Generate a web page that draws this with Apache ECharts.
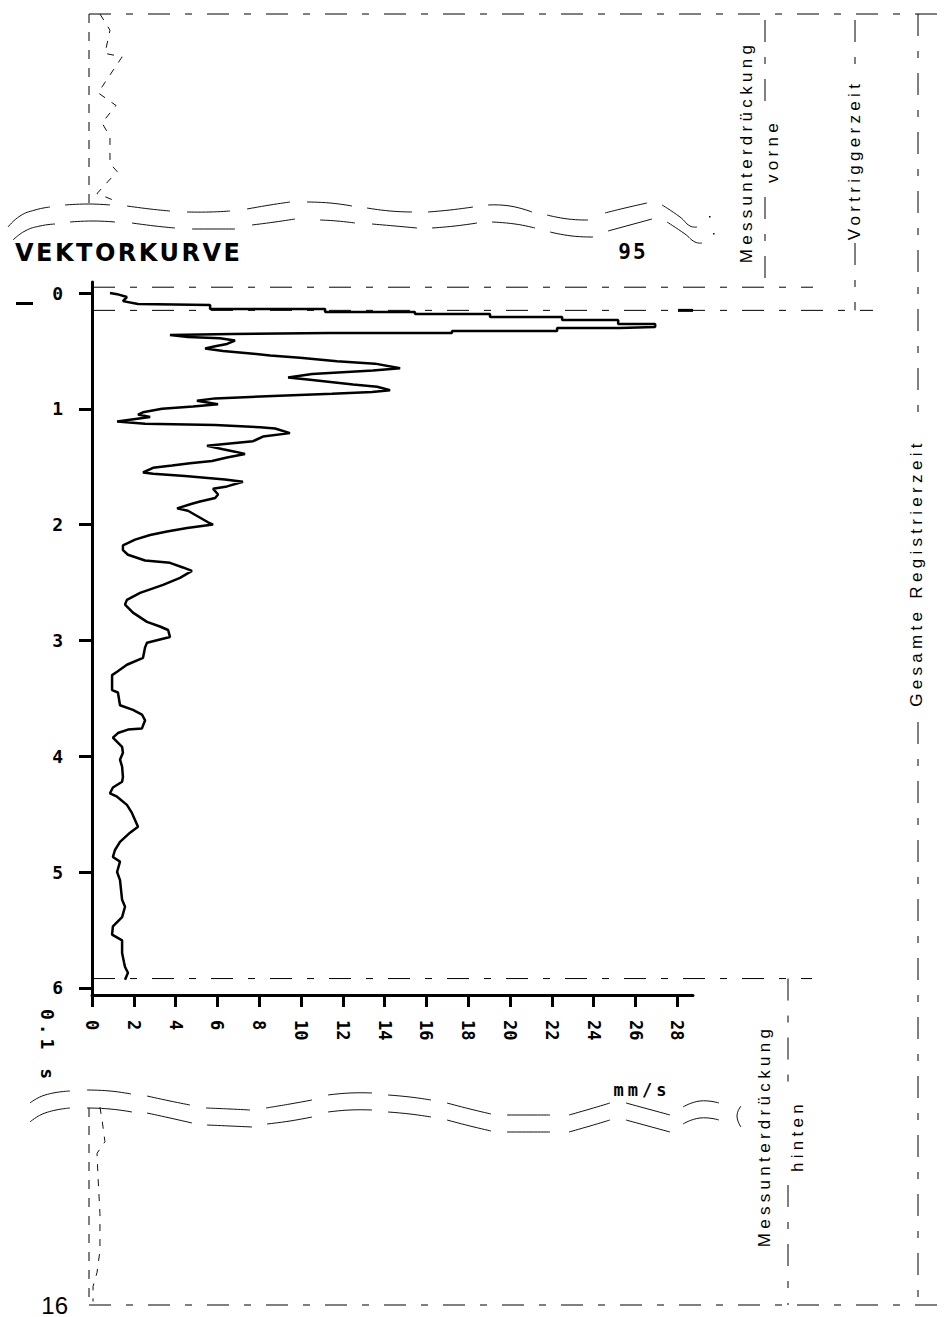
<!DOCTYPE html>
<html>
<head>
<meta charset="utf-8">
<title>Vektorkurve</title>
<script src="https://cdn.jsdelivr.net/npm/echarts@6.0.0/dist/echarts.min.js"></script>
<style>
html,body{margin:0;padding:0;background:#ffffff;}
#chart{width:951px;height:1317px;}
</style>
</head>
<body>
<div id="chart"></div>
<script>
// ---------------- data ----------------
// main trace: time in 0.1 s (vertical axis), vector velocity in mm/s (horizontal axis)
const time = [0.00,0.01,0.035,0.07,0.095,0.104,0.138,0.138,0.164,0.164,
  0.181,0.181,0.207,0.207,0.233,0.233,0.268,0.268,0.294,0.302,
  0.302,0.328,0.328,0.345,0.345,0.354,0.363,0.38,
  0.39,0.41,0.44,0.46,0.48,0.50,0.52,0.54,0.56,0.59,
  0.61,0.65,0.67,0.70,0.73,0.75,0.79,0.81,0.84,0.855,
  0.87,0.89,0.91,0.93,0.96,0.98,1.00,1.03,1.05,1.07,
  1.11,1.13,1.14,1.16,1.17,1.21,1.24,1.28,1.30,1.32,
  1.35,1.37,1.39,1.42,1.45,1.47,1.49,1.51,1.55,1.56,
  1.58,1.61,1.63,1.67,1.69,1.74,1.77,1.80,1.82,1.86,
  1.88,1.93,1.98,2.00,2.03,2.06,2.09,2.13,2.18,2.22,
  2.26,2.31,2.33,2.37,2.40,2.46,2.52,2.59,2.65,2.69,
  2.76,2.84,2.88,2.91,2.97,3.02,3.06,3.15,3.21,3.27,
  3.30,3.43,3.45,3.56,3.60,3.64,3.69,3.76,3.77,3.80,
  3.84,3.92,3.97,4.03,4.09,4.18,4.22,4.27,4.32,4.35,
  4.42,4.49,4.61,4.66,4.74,4.81,4.87,4.91,5.00,5.07,
  5.24,5.30,5.39,5.47,5.54,5.59,5.70,5.78,5.82,5.87,
  5.93];
const velocity = [0.86,1.20,1.67,1.48,2.20,5.65,5.65,11.15,11.15,15.45,
  15.45,19.04,19.04,22.49,22.49,25.17,25.17,26.94,26.94,25.26,
  22.25,22.25,17.22,17.22,11.39,6.70,3.73,4.59,
  6.12,6.84,6.46,5.89,5.41,6.27,7.46,8.52,9.95,11.72,
  13.54,14.74,13.44,10.53,9.38,10.43,12.49,13.64,14.26,13.40,
  11.48,8.66,5.89,5.02,6.03,4.83,3.35,2.44,2.20,2.78,
  1.20,2.54,5.89,8.04,8.76,9.47,8.18,7.70,6.60,5.50,
  6.27,6.84,7.32,6.46,5.74,4.69,3.83,2.92,2.44,2.92,
  4.45,6.36,7.22,6.46,5.79,6.03,5.89,5.17,4.78,4.07,
  4.59,5.07,5.55,5.79,4.55,3.59,2.78,2.06,1.48,1.48,
  1.72,2.54,3.73,4.35,4.78,4.21,3.40,2.30,1.67,1.58,
  1.96,2.63,3.25,3.64,3.73,2.63,2.54,2.44,1.67,1.20,
  0.96,0.96,1.24,1.34,1.96,2.39,2.54,2.39,1.72,1.24,
  1.00,1.44,1.48,1.34,1.44,1.48,1.44,1.00,0.86,1.20,
  1.67,1.91,2.20,1.82,1.34,1.10,1.00,1.34,1.20,1.34,
  1.44,1.58,1.44,1.00,0.96,1.44,1.44,1.53,1.58,1.72,
  1.58];
// suppressed part before the record (Messunterdrückung vorne), dashed trace
const preTime = [0.00,0.14,0.34,0.37,0.68,0.79,0.94,1.06,1.29,1.36,1.55,1.62];
const preVelocity = [0.38,0.86,0.62,1.44,0.29,1.15,0.48,0.86,0.86,1.20,0.24,1.20];
// suppressed part after the record (Messunterdrückung hinten), dashed trace
const postTime = [14.29,14.40,14.59,14.69,14.90,15.21,15.53,15.72,15.84,15.97];
const postVelocity = [0.38,0.48,0.62,0.24,0.29,0.38,0.38,0.24,0.05,0.05];
// tick labels
const velocityTicks = [0,2,4,6,8,10,12,14,16,18,20,22,24,26,28];
const timeTicks = [0,1,2,3,4,5,6];
const endTimeTicks = [16];
// time boundaries (0.1 s)
const frontSuppressionEnd = -0.05;
const pretriggerEnd = 0.15;
const rearSuppressionStart = 5.92;

// ---------------- chart ----------------
const INK = '#000';
const chart = echarts.init(document.getElementById('chart'), null, {renderer: 'svg', width: 951, height: 1317});

const numFont = 'DejaVu Sans Mono';
const option = {
  animation: false,
  backgroundColor: '#ffffff',
  grid: [
    {left: 92, top: 282, width: 601, height: 713, outerBoundsMode: 'none', containLabel: false},
    {left: 92, top: 14, width: 601, height: 191, outerBoundsMode: 'none', containLabel: false},
    {left: 92, top: 1105, width: 601, height: 200, outerBoundsMode: 'none', containLabel: false}
  ],
  xAxis: [
    {gridIndex: 0, type: 'value', min: 0, max: 28.75, position: 'bottom',
      axisLine: {show: true, onZero: false, lineStyle: {color: INK, width: 3}},
      axisTick: {show: true, customValues: velocityTicks, length: 12, lineStyle: {color: INK, width: 3}},
      axisLabel: {show: true, customValues: velocityTicks, rotate: -90, margin: 25, color: INK, fontFamily: numFont, fontWeight: 'bold', fontSize: 17},
      splitLine: {show: false}},
    {gridIndex: 1, type: 'value', min: 0, max: 28.75, show: false},
    {gridIndex: 2, type: 'value', min: 0, max: 28.75, show: false}
  ],
  yAxis: [
    {gridIndex: 0, type: 'value', inverse: true, min: -0.095, max: 6.062,
      axisLine: {show: true, onZero: false, lineStyle: {color: INK, width: 3}},
      axisTick: {show: true, customValues: timeTicks, length: 13, lineStyle: {color: INK, width: 3}},
      axisLabel: {show: true, customValues: timeTicks, margin: 29, color: INK, fontFamily: numFont, fontWeight: 'bold', fontSize: 18},
      splitLine: {show: false}},
    {gridIndex: 1, type: 'value', inverse: true, min: 0, max: 1.649, show: false},
    {gridIndex: 2, type: 'value', inverse: true, min: 14.273, max: 16,
      axisLine: {show: false}, axisTick: {show: false}, splitLine: {show: false},
      axisLabel: {show: true, customValues: endTimeTicks, margin: 24, color: INK, fontFamily: 'Liberation Sans', fontSize: 24, lineHeight: 22}}
  ],
  series: [
    {type: 'line', xAxisIndex: 0, yAxisIndex: 0, symbol: 'none', showSymbol: false, silent: true,
      data: time.map((t, i) => [velocity[i], t]),
      lineStyle: {color: INK, width: 2.5}},
    {type: 'line', xAxisIndex: 1, yAxisIndex: 1, symbol: 'none', showSymbol: false, silent: true,
      data: preTime.map((t, i) => [preVelocity[i], t]),
      lineStyle: {color: '#111', width: 1, type: [7, 8]}},
    {type: 'line', xAxisIndex: 2, yAxisIndex: 2, symbol: 'none', showSymbol: false, silent: true,
      data: postTime.map((t, i) => [postVelocity[i], t]),
      lineStyle: {color: '#111', width: 1, type: [7, 8]}}
  ]
};
chart.setOption(option);

// ---------------- decorations ----------------
const DASHDOT = [22, 15, 7, 15];
const SHORT = [9, 9];
function seg(x1, y1, x2, y2, dash, w) {
  return {type: 'line', silent: true, z: 10, shape: {x1, y1, x2, y2},
    style: {stroke: INK, lineWidth: w || 1, lineDash: dash || null}};
}
function curve(points) {
  return {type: 'polyline', silent: true, z: 10, shape: {points, smooth: 0.5},
    style: {stroke: '#111', lineWidth: 1, fill: null}};
}
function txt(text, x, y, rot, font, align) {
  return {type: 'text', silent: true, z: 20, x, y, rotation: rot || 0,
    style: {text, font, fill: INK, align: align || 'center', verticalAlign: 'middle',
      textAlign: align || 'center', textVerticalAlign: 'middle'}};
}
function rect(x, y, w, h) {
  return {type: 'rect', silent: true, z: 10, shape: {x, y, width: w, height: h}, style: {fill: INK}};
}

const yFront = chart.convertToPixel({yAxisIndex: 0}, frontSuppressionEnd);
const yPre = chart.convertToPixel({yAxisIndex: 0}, pretriggerEnd);
const yRear = chart.convertToPixel({yAxisIndex: 0}, rearSuppressionStart);

const waves = [
  // top break, upper line
  [[8,227],[20,216],[35,210],[50,207]], [[65,205],[88,204],[110,205]], [[127,206],[150,209],[170,211]],
  [[187,212],[210,212],[230,211]], [[247,209],[270,205],[290,202]], [[307,202],[330,203],[352,206]],
  [[367,208],[390,211],[412,212]], [[428,212],[450,210],[473,207]], [[488,205],[510,206],[532,212]],
  [[547,215],[568,219],[588,220]], [[605,213],[625,208],[647,203]], [[662,205],[680,217],[690,226],[697,227]],
  // top break, lower line
  [[13,240],[25,231],[40,226],[55,224]], [[70,222],[93,221],[115,222]], [[132,223],[155,226],[175,228]],
  [[192,229],[214,229],[235,229]], [[252,225],[275,222],[295,219]], [[320,220],[337,221],[355,223]],
  [[372,224],[395,226],[417,228]], [[432,228],[455,226],[477,223]], [[492,222],[515,224],[535,228]],
  [[550,232],[572,236],[593,237]], [[608,231],[630,225],[652,219]], [[667,222],[685,234],[695,242],[702,243]],
  // bottom break, upper line
  [[30,1103],[45,1095],[70,1091]], [[87,1090],[110,1091],[131,1094]], [[147,1096],[170,1101],[190,1105]],
  [[206,1108],[230,1109],[250,1110]], [[266,1108],[290,1104],[312,1100]], [[328,1095],[350,1093],[372,1093]],
  [[388,1095],[410,1097],[431,1100]], [[447,1103],[470,1109],[491,1114]], [[507,1115],[530,1115],[550,1115]],
  [[569,1115],[590,1109],[610,1103]], [[626,1103],[648,1109],[670,1115]], [[683,1107],[700,1101],[719,1103]],
  // bottom break, lower line
  [[30,1122],[45,1113],[70,1108]], [[87,1108],[110,1109],[132,1112]], [[147,1113],[170,1118],[192,1123]],
  [[207,1125],[230,1126],[252,1127]], [[267,1124],[290,1121],[312,1117]], [[328,1112],[350,1110],[372,1110]],
  [[388,1112],[410,1114],[431,1117]], [[447,1120],[470,1126],[491,1131]], [[507,1132],[530,1132],[550,1132]],
  [[569,1132],[590,1126],[610,1120]], [[626,1120],[648,1126],[670,1132]], [[683,1124],[700,1118],[719,1120]],
  [[741,1106],[737,1116],[741,1127]]
];

const graphics = [];
// frames of the time sections
graphics.push(seg(89, 14, 951, 14, DASHDOT));
graphics.push(seg(89, 14, 89, 203, SHORT));
graphics.push(seg(89, 1108, 89, 1305, SHORT));
graphics.push(seg(89, 1305, 951, 1305, DASHDOT));
graphics.push(seg(93, yFront, 813, yFront, DASHDOT));
graphics.push(seg(93, yPre, 873, yPre, DASHDOT));
graphics.push(seg(93, yRear, 812, yRear, DASHDOT));
graphics.push(seg(765, 20, 765, 105, DASHDOT));
graphics.push(seg(765, 197, 765, yFront, DASHDOT));
graphics.push(seg(855, 20, 855, 78, DASHDOT));
graphics.push(seg(855, 243, 855, yPre, DASHDOT));
graphics.push(seg(918, 14, 918, 425, DASHDOT));
graphics.push(seg(918, 722, 918, 1305, DASHDOT));
graphics.push(seg(788, yRear, 788, 1090, DASHDOT));
graphics.push(seg(788, 1185, 788, 1305, DASHDOT));
waves.forEach(p => graphics.push(curve(p)));
graphics.push(rect(709, 216, 1.5, 1.5));
graphics.push(rect(713, 233, 1.5, 1.5));
graphics.push(rect(678, yPre - 1.5, 15, 3));
graphics.push(rect(16, 302, 17, 3));
// texts
graphics.push(txt('VEKTORKURVE', 15, 253, 0, 'bold 24px "DejaVu Sans"', 'left'));
graphics.push(txt('95', 633, 252, 0, 'bold 21px "DejaVu Sans Mono"'));
graphics.push(txt('mm/s', 642, 1090, 0, 'bold 17px "DejaVu Sans Mono"'));
graphics.push(txt('0.1 s', 47, 1046, -Math.PI / 2, 'bold 18px "DejaVu Sans Mono"'));
const sideFont = '17px "Liberation Sans", Arial, sans-serif';
graphics.push(txt('Messunterdrückung', 746, 152, Math.PI / 2, sideFont));
graphics.push(txt('vorne', 772, 151, Math.PI / 2, sideFont));
graphics.push(txt('Vortriggerzeit', 854, 160, Math.PI / 2, sideFont));
graphics.push(txt('Gesamte Registrierzeit', 916, 573, Math.PI / 2, sideFont));
graphics.push(txt('Messunterdrückung', 764, 1136, Math.PI / 2, sideFont));
graphics.push(txt('hinten', 797, 1136, Math.PI / 2, sideFont));

chart.setOption({graphic: graphics});

// letter spacing of the wide-set labels (svg text)
const spacing = {
  'VEKTORKURVE': 2.5, '95': 2, 'mm/s': 4, '0.1 s': 4,
  'Messunterdrückung': 4.3, 'vorne': 4.3, 'hinten': 4.3,
  'Vortriggerzeit': 4.3, 'Gesamte Registrierzeit': 4.3
};
function applySpacing() {
  document.querySelectorAll('#chart text').forEach(t => {
    const s = spacing[t.textContent];
    if (s != null) {
      t.setAttribute('letter-spacing', s);
      t.style.letterSpacing = s + 'px';
    }
  });
}
chart.on('finished', applySpacing);
applySpacing();
setTimeout(applySpacing, 30);
setTimeout(applySpacing, 200);
setTimeout(applySpacing, 600);
</script>
</body>
</html>
